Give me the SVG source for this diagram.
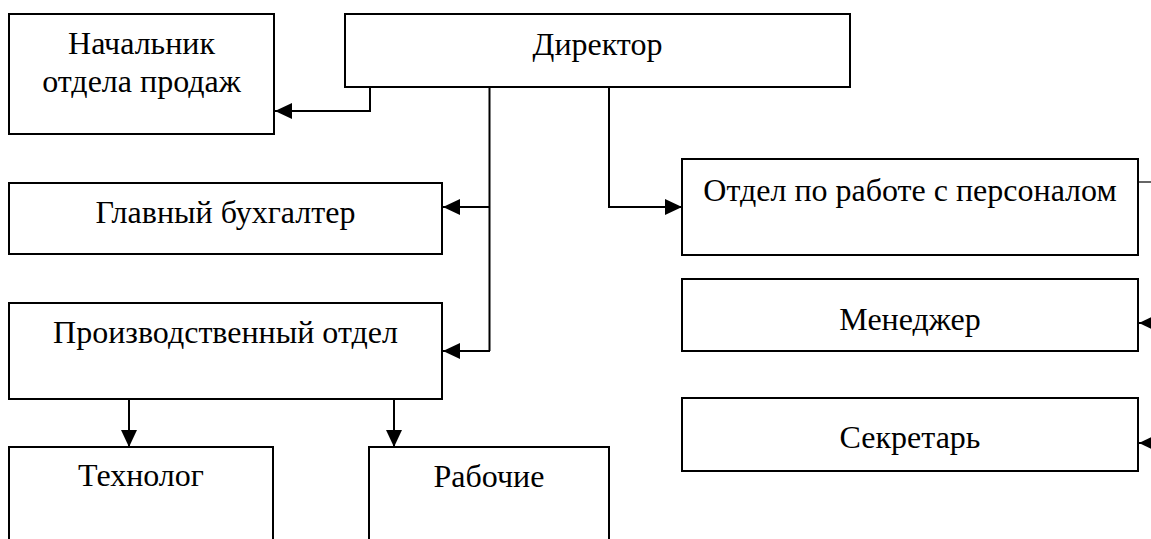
<svg xmlns="http://www.w3.org/2000/svg" width="1151" height="539" viewBox="0 0 1151 539">
  <style>
    .box { fill: #ffffff; stroke: #000000; stroke-width: 2; }
    .lbl { font-family: "Liberation Serif", "Times New Roman", serif; font-size: 32px; fill: #000000; text-anchor: middle; }
    .link { fill: none; stroke: #000000; stroke-width: 2; }
    .thin { fill: none; stroke: #000000; stroke-width: 1.2; }
  </style>
  <defs>
    <marker id="arrow" markerUnits="userSpaceOnUse" markerWidth="17" markerHeight="16" refX="17" refY="8" orient="auto">
      <path d="M0,0 L17,8 L0,16 Z" fill="#000000"/>
    </marker>
  </defs>
  <rect width="1151" height="539" fill="#ffffff"/>

  <g id="connectors">
    <!-- Director to sales head -->
    <path class="link" d="M370,87 V111 H275" marker-end="url(#arrow)"/>
    <!-- Director trunk to accounting and production -->
    <path class="link" d="M489.5,87 V351"/>
    <path class="link" d="M490,207 H443" marker-end="url(#arrow)"/>
    <path class="link" d="M490,351 H443" marker-end="url(#arrow)"/>
    <!-- Director to HR -->
    <path class="link" d="M609,87 V207 H682" marker-end="url(#arrow)"/>
    <!-- Production to its units -->
    <path class="link" d="M129,399 V447" marker-end="url(#arrow)"/>
    <path class="link" d="M394,399 V447" marker-end="url(#arrow)"/>
    <!-- HR outgoing line and incoming arrows on the right -->
    <path class="thin" d="M1138,182 H1151"/>
    <path class="link" d="M1156,323 H1139" marker-end="url(#arrow)"/>
    <path class="link" d="M1156,443 H1139" marker-end="url(#arrow)"/>
  </g>

  <g id="sales-head">
    <rect class="box" x="9" y="14" width="265" height="120"/>
    <text class="lbl" x="141.5" y="54">Начальник</text>
    <text class="lbl" x="141.5" y="92">отдела продаж</text>
  </g>

  <g id="director">
    <rect class="box" x="345" y="14" width="505" height="73"/>
    <text class="lbl" x="597.5" y="55">Директор</text>
  </g>

  <g id="chief-accountant">
    <rect class="box" x="9" y="183" width="433" height="71"/>
    <text class="lbl" x="225.5" y="223">Главный бухгалтер</text>
  </g>

  <g id="production">
    <rect class="box" x="9" y="303" width="433" height="96"/>
    <text class="lbl" x="225.5" y="343">Производственный отдел</text>
  </g>

  <g id="technologist">
    <rect class="box" x="9" y="447" width="264" height="110"/>
    <text class="lbl" x="141" y="486">Технолог</text>
  </g>

  <g id="workers">
    <rect class="box" x="369" y="447" width="240" height="110"/>
    <text class="lbl" x="489" y="487">Рабочие</text>
  </g>

  <g id="hr">
    <rect class="box" x="682" y="159" width="456" height="96"/>
    <text class="lbl" x="910" y="201">Отдел по работе с персоналом</text>
  </g>

  <g id="manager">
    <rect class="box" x="682" y="279" width="456" height="72"/>
    <text class="lbl" x="910" y="330">Менеджер</text>
  </g>

  <g id="secretary">
    <rect class="box" x="682" y="398" width="456" height="73"/>
    <text class="lbl" x="910" y="448">Секретарь</text>
  </g>
</svg>
